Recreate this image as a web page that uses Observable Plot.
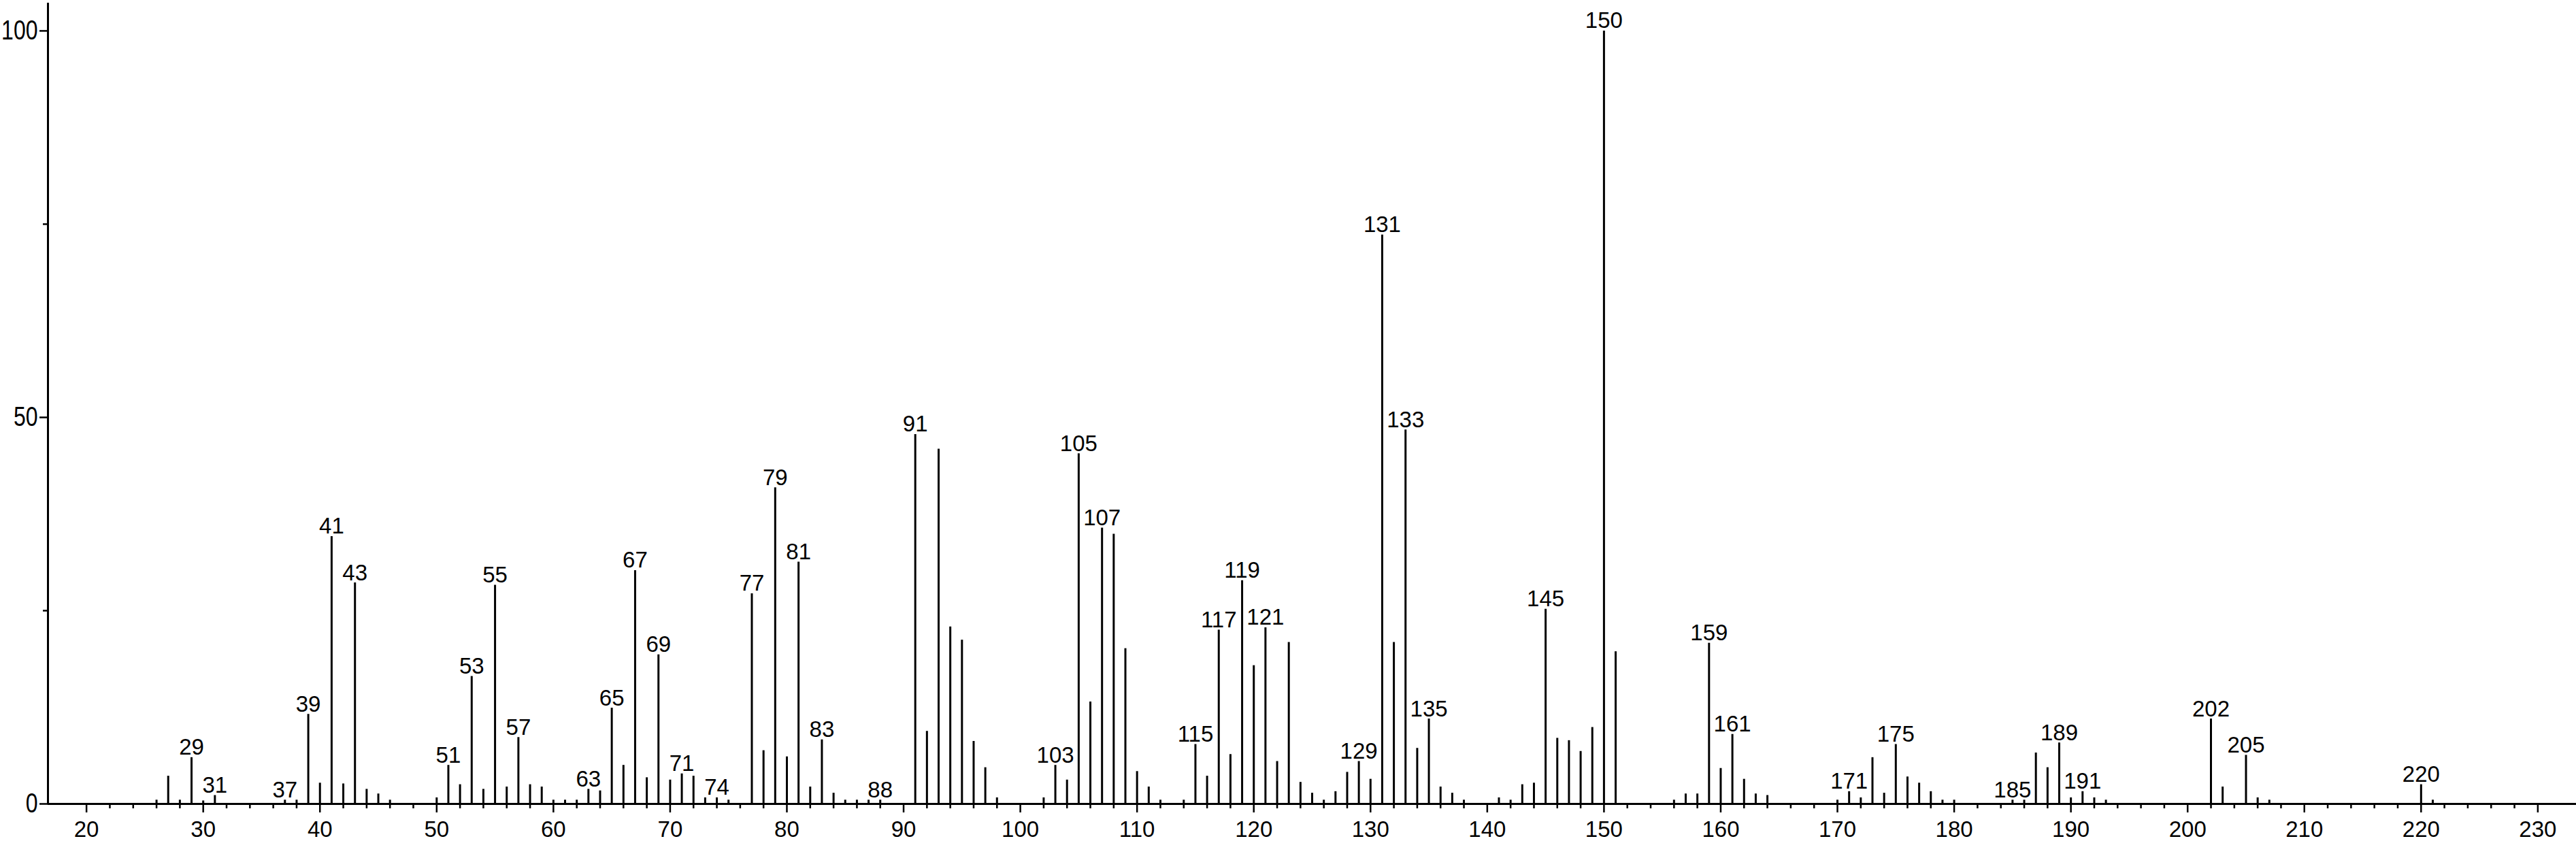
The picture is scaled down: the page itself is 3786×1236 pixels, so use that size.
<!DOCTYPE html>
<html>
<head>
<meta charset="utf-8">
<script src="https://cdn.jsdelivr.net/npm/d3@7"></script>
<script src="https://cdn.jsdelivr.net/npm/@observablehq/plot@0.6"></script>
<style>
  html, body { margin: 0; padding: 0; background: #fff; }
  #chart svg { display: block; }
</style>
</head>
<body>
<div id="chart"></div>
<script>
// m/z values of the peaks
const mz = [
  26, 27, 28, 29, 30, 31, 37, 38, 39, 40, 41, 42, 43, 44, 45, 46,
  50, 51, 52, 53, 54, 55, 56, 57, 58, 59, 60, 61, 62, 63, 64, 65, 66, 67, 68, 69,
  70, 71, 72, 73, 74, 75, 77, 78, 79, 80, 81, 82, 83, 84, 85, 86, 87, 88,
  91, 92, 93, 94, 95, 96, 97, 98, 102, 103, 104, 105, 106, 107, 108, 109,
  110, 111, 112, 114, 115, 116, 117, 118, 119, 120, 121, 122, 123, 124, 125, 126, 127, 128, 129,
  130, 131, 132, 133, 134, 135, 136, 137, 138, 141, 142, 143, 144, 145, 146, 147, 148, 149,
  150, 151, 156, 157, 158, 159, 160, 161, 162, 163, 164,
  170, 171, 172, 173, 174, 175, 176, 177, 178, 179, 180, 185, 186, 187, 188, 189,
  190, 191, 192, 193, 202, 203, 205, 206, 207, 220, 221
];
// relative intensities (%)
const intensity = [
  0.5, 3.6, 0.5, 6.0, 0.4, 1.1, 0.5, 0.5, 11.6, 2.7, 34.6, 2.6, 28.6, 1.9, 1.3, 0.5,
  0.8, 5.0, 2.5, 16.5, 1.9, 28.3, 2.2, 8.6, 2.5, 2.2, 0.5, 0.5, 0.5, 1.9, 1.7, 12.4, 5.0, 30.2, 3.4, 19.3,
  3.1, 3.9, 3.6, 0.8, 0.8, 0.5, 27.2, 6.9, 40.9, 6.1, 31.3, 2.2, 8.3, 1.4, 0.5, 0.5, 0.5, 0.5,
  47.8, 9.4, 45.9, 22.9, 21.2, 8.1, 4.7, 0.8, 0.8, 5.0, 3.1, 45.3, 13.2, 35.7, 34.9, 20.1,
  4.2, 2.2, 0.5, 0.5, 7.7, 3.6, 22.5, 6.4, 28.9, 17.9, 22.8, 5.5, 20.9, 2.8, 1.4, 0.5, 1.6, 4.1, 5.5,
  3.2, 73.6, 20.9, 48.4, 7.2, 11.0, 2.2, 1.4, 0.5, 0.8, 0.5, 2.5, 2.7, 25.2, 8.5, 8.2, 6.8, 9.9,
  100, 19.7, 0.5, 1.3, 1.3, 20.8, 4.6, 9.0, 3.2, 1.3, 1.1,
  0.5, 1.6, 0.8, 6.0, 1.4, 7.7, 3.5, 2.7, 1.6, 0.5, 0.5, 0.5, 0.5, 6.6, 4.7, 7.9,
  0.8, 1.6, 0.8, 0.5, 11.0, 2.2, 6.3, 0.8, 0.5, 2.5, 0.5
];
// peaks that carry an m/z label
const labeledMz = [
  29, 31, 37, 39, 41, 43, 51, 53, 55, 57, 63, 65, 67, 69, 71, 74, 77, 79, 81, 83, 88,
  91, 103, 105, 107, 115, 117, 119, 121, 129, 131, 133, 135, 145, 150, 159, 161,
  171, 175, 185, 189, 191, 202, 205, 220
];
// axis ticks
const xMajorTicks = [20, 30, 40, 50, 60, 70, 80, 90, 100, 110, 120, 130, 140, 150, 160, 170, 180, 190, 200, 210, 220, 230];
const xMinorTicks = d3.range(22, 229, 2).filter(v => v % 10 !== 0);
const yMajorTicks = [0, 50, 100];
const yMinorTicks = [25, 75];
const xDomain = [16.7, 233.3];
const yDomain = [0, 103.6];

const peaks = mz.map((m, i) => ({mz: m, intensity: intensity[i]}));
const labels = peaks.filter(d => labeledMz.includes(d.mz));

const chart = Plot.plot({
  width: 3786,
  height: 1236,
  marginLeft: 70,
  marginRight: 0,
  marginTop: 4,
  marginBottom: 55,
  style: {fontFamily: "'Liberation Sans', Arial, sans-serif", background: "#fff", color: "#000"},
  x: {domain: xDomain, label: null},
  y: {domain: yDomain, label: null},
  marks: [
    Plot.ruleX(peaks, {x: "mz", y1: 0, y2: "intensity", stroke: "#000", strokeWidth: 3}),
    Plot.text(labels, {x: "mz", y: "intensity", text: d => String(d.mz), lineAnchor: "bottom", dy: -4, fontSize: 33, fill: "#000"}),
    Plot.axisX(xMajorTicks, {tickSize: 13, tickPadding: 12, fontSize: 33, strokeWidth: 2.5, label: null}),
    Plot.axisX(xMinorTicks, {tickSize: 7, tickFormat: () => "", strokeWidth: 2.5, label: null}),
    Plot.axisY(yMajorTicks, {tickSize: 12, tickPadding: 3, fontSize: 32, strokeWidth: 2.5, label: null}),
    Plot.axisY(yMinorTicks, {tickSize: 7, tickFormat: () => "", strokeWidth: 2.5, label: null}),
    Plot.ruleY([0], {stroke: "#000", strokeWidth: 3}),
    Plot.ruleX([xDomain[0]], {stroke: "#000", strokeWidth: 3})
  ]
});

// stretch y tick labels vertically like the reference
chart.querySelectorAll('g[aria-label="y-axis tick label"] text').forEach(t => {
  const tr = t.getAttribute("transform");
  if (tr) t.setAttribute("transform", tr + " scale(1,1.25)");
});

document.getElementById("chart").appendChild(chart);
</script>
</body>
</html>
